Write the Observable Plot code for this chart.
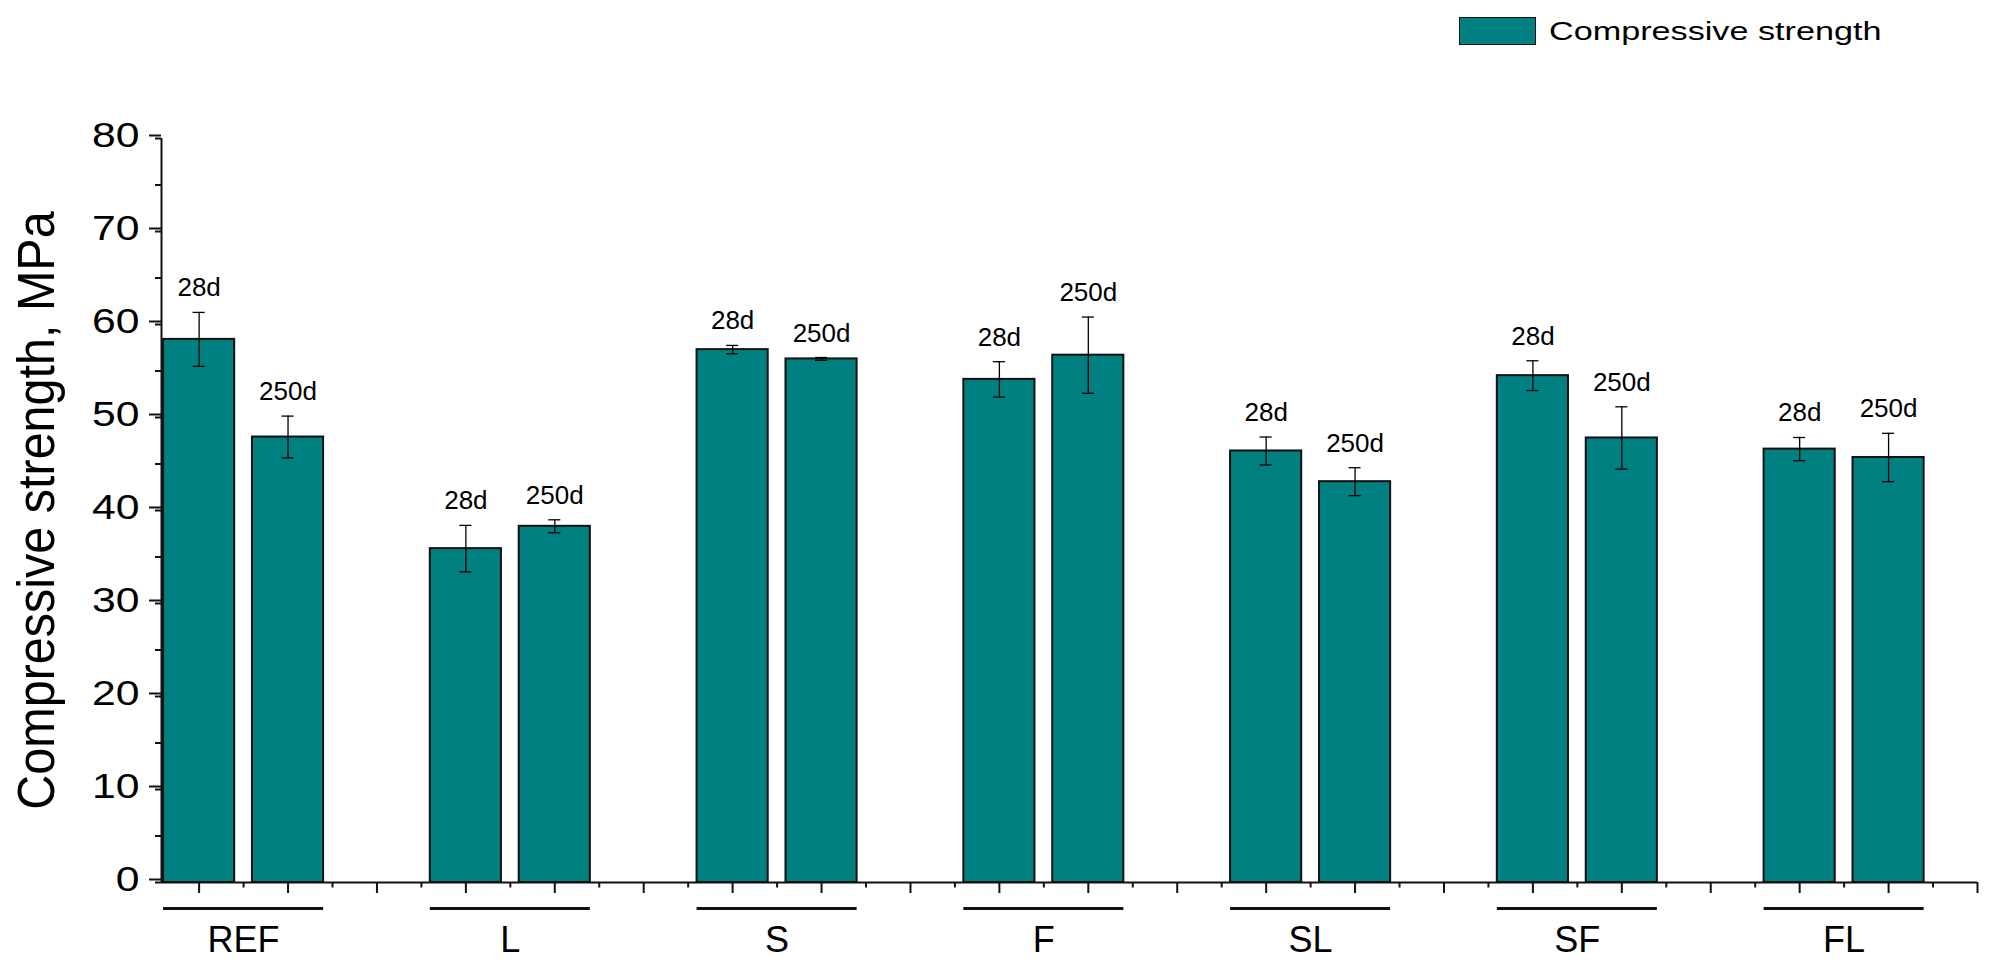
<!DOCTYPE html>
<html>
<head>
<meta charset="utf-8">
<script src="https://cdn.jsdelivr.net/npm/d3@7"></script>
<script src="https://cdn.jsdelivr.net/npm/@observablehq/plot@0.6"></script>
<style>
  html, body { margin: 0; padding: 0; background: #fff; }
  #legend { position: relative; width: 2000px; height: 60px; font-family: "Liberation Sans", Arial, sans-serif; }
  #legend .sw { position: absolute; left: 1459px; top: 17px; width: 75px; height: 26px; background: #008080; border: 1.5px solid #111; }
  #legend .lb { position: absolute; left: 1549px; top: 18.3px; font-size: 26.5px; line-height: 1; transform: scaleX(1.29); transform-origin: 0 0; white-space: nowrap; color: #000; }
  #chart svg { display: block; overflow: visible; }
</style>
</head>
<body>
<div id="legend"><div class="sw"></div><span class="lb">Compressive strength</span></div>
<div id="chart"></div>
<script>
// ---- data ----
const groups = ["REF", "L", "S", "F", "SL", "SF", "FL"];
const ages = ["28d", "250d"];
const strength28 = [58.4, 35.9, 57.3, 54.1, 46.4, 54.5, 46.6];
const strength250 = [47.9, 38.3, 56.3, 56.7, 43.1, 47.8, 45.7];
const err28 = [2.9, 2.5, 0.45, 1.9, 1.5, 1.6, 1.25];
const err250 = [2.25, 0.7, 0.15, 4.1, 1.5, 3.35, 2.6];
const yTicksMajor = [0, 10, 20, 30, 40, 50, 60, 70, 80];
const yTitle = "Compressive strength, MPa";
const legendLabel = "Compressive strength";

// ---- layout helpers (slot-based categorical x like the original) ----
const slotsPerGroup = 3;
const barHalf = 0.4;
const capHalf = 0.068;
const lastSlot = groups.length * slotsPerGroup - 1;
const xDomain = [-0.423, lastSlot];
const yDomain = [0, 80];
const values = [strength28, strength250];
const errs = [err28, err250];

const rows = [];
groups.forEach((g, i) => {
  ages.forEach((a, j) => {
    rows.push({group: g, age: a, slot: i * slotsPerGroup + j, value: values[j][i], err: errs[j][i]});
  });
});
const groupRows = groups.map((g, i) => ({
  group: g,
  x1: i * slotsPerGroup - barHalf,
  x2: i * slotsPerGroup + (ages.length - 1) + barHalf,
  mid: i * slotsPerGroup + (ages.length - 1) / 2
}));
const xMajor = d3.range(0, lastSlot + 1);
const xMinor = d3.range(0.5, lastSlot, 1);
const yMinor = d3.range(0, 81, 5);

const ink = "#111";

const chart = Plot.plot({
  width: 2000,
  height: 906,
  marginLeft: 161,
  marginRight: 23,
  marginTop: 78,
  marginBottom: 84,
  style: {fontFamily: '"Liberation Sans", Arial, sans-serif', background: "#fff", color: "#000"},
  x: {domain: xDomain, label: null},
  y: {domain: yDomain, label: null},
  marks: [
    Plot.rect(rows, {x1: d => d.slot - barHalf, x2: d => d.slot + barHalf, y1: () => 0, y2: "value",
      fill: "#008080", stroke: ink, strokeWidth: 2}),
    Plot.ruleX(rows, {x: "slot", y1: d => d.value - d.err, y2: d => d.value + d.err, stroke: "#000", strokeWidth: 1.3}),
    Plot.ruleY(rows, {y: d => d.value + d.err, x1: d => d.slot - capHalf, x2: d => d.slot + capHalf, stroke: "#000", strokeWidth: 1.3}),
    Plot.ruleY(rows, {y: d => d.value - d.err, x1: d => d.slot - capHalf, x2: d => d.slot + capHalf, stroke: "#000", strokeWidth: 1.3}),
    Plot.text(rows, {x: "slot", y: d => d.value + d.err, text: "age", dy: -16, lineAnchor: "bottom", fontSize: 26, fill: "#000"}),
    // axes lines
    Plot.ruleX([xDomain[0]], {y1: yDomain[0], y2: yDomain[1], stroke: ink, strokeWidth: 2}),
    Plot.ruleY([yDomain[0]], {x1: xDomain[0], x2: xDomain[1], stroke: ink, strokeWidth: 2}),
    // x ticks
    Plot.axisX({ticks: xMajor, tickSize: 11, tickFormat: () => "", stroke: ink, strokeWidth: 2}),
    Plot.axisX({ticks: xMinor, tickSize: 5.5, tickFormat: () => "", stroke: ink, strokeWidth: 2}),
    // y ticks
    Plot.axisY({ticks: yMinor, tickSize: 6, tickFormat: () => "", stroke: ink, strokeWidth: 2}),
    Plot.axisY({ticks: yTicksMajor, tickSize: 12, tickPadding: 10, fontSize: 35, dy: -3, stroke: ink, strokeWidth: 2}),
    // group underlines & labels
    Plot.ruleY(groupRows, {y: () => 0, x1: "x1", x2: "x2", dy: 26, stroke: ink, strokeWidth: 3}),
    Plot.text(groupRows, {x: "mid", y: () => 0, text: "group", dy: 57.5, lineAnchor: "middle", fontSize: 36, fill: "#000"}),
    // y title
    Plot.text([yTitle], {frameAnchor: "left", text: d => d, rotate: -90, dx: -124.6, textAnchor: "middle", lineAnchor: "middle", fontSize: 48.5, fill: "#000"})
  ]
});
document.getElementById("chart").appendChild(chart);

// mimic the horizontally stretched glyphs of the original figure
function stretch(el, sx, sy) {
  let t = el.getAttribute("transform") || "";
  const x = el.getAttribute("x");
  if (x && !/em$/.test(x)) { t += ` translate(${x},0)`; el.removeAttribute("x"); }
  const y = el.getAttribute("y");
  if (y && !/em$/.test(y)) { t += ` translate(0,${y})`; el.removeAttribute("y"); }
  el.setAttribute("transform", `${t} scale(${sx},${sy})`);
}
d3.select(chart).selectAll('g[aria-label="y-axis tick label"] text').each(function() {
  if (this.textContent) stretch(this, 1.22, 1);
});
d3.select(chart).selectAll("text").each(function() {
  if (this.textContent === yTitle) stretch(this, 1, 1.07);
});
</script>
</body>
</html>
